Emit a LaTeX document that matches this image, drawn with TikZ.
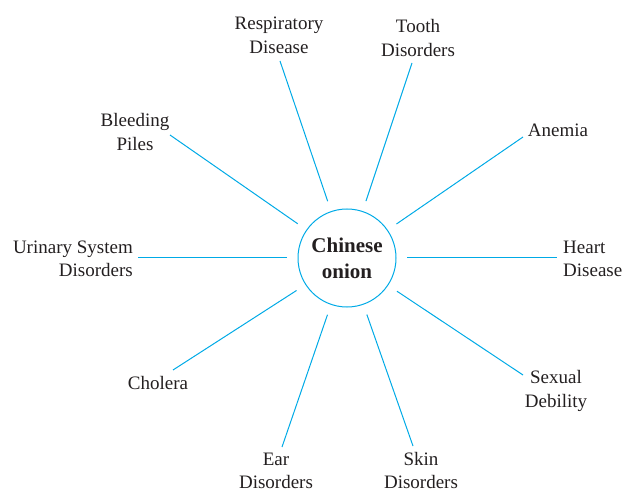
\documentclass[tikz,border=0pt]{standalone}
\usepackage{fontspec}
\setmainfont{Liberation Serif}
\definecolor{spokeblue}{RGB}{0,170,230}
\definecolor{txtgray}{RGB}{35,31,32}
\begin{document}
\begin{tikzpicture}[x=1pt,y=-1pt,
  spoke/.style={draw=spokeblue,line width=1pt},
  lbl/.style={text=txtgray,font=\fontsize{19}{24}\selectfont,inner sep=0pt,anchor=base},
  hub/.style={circle,draw=spokeblue,line width=1pt,minimum size=98pt,inner sep=0pt,outer sep=11pt,
    text=txtgray,font=\bfseries\fontsize{21}{26}\selectfont,align=center}]
\useasboundingbox (0,0) rectangle (625,492);
\node[hub] (c) at (347,258) {Chinese\\onion};
% labels (y = baseline of last line)
\node[lbl,align=center] (resp) at (279,54) {Respiratory\\Disease};
\node[lbl,align=center] (tooth) at (418,57) {Tooth\\Disorders};
\node[lbl,align=center] (anem) at (558,137) {Anemia};
\node[lbl,align=left,anchor=base west] (heart) at (563,277) {Heart\\Disease};
\node[lbl,align=center] (sex) at (556,407) {Sexual\\Debility};
\node[lbl,align=center] (skin) at (421,489) {Skin\\Disorders};
\node[lbl,align=center] (ear) at (276,489) {Ear\\Disorders};
\node[lbl,align=center] (chol) at (158,390) {Cholera};
\node[lbl,align=right,anchor=base east] (urin) at (133,277) {Urinary System\\Disorders};
\node[lbl,align=center] (bleed) at (135,151) {Bleeding\\Piles};
% outer ends
\coordinate (eResp) at (280,61);
\coordinate (eTooth) at (412,63);
\coordinate (eAnem) at (523,137);
\coordinate (eHeart) at (557,258);
\coordinate (eSex) at (523,375);
\coordinate (eSkin) at (413,446);
\coordinate (eEar) at (282,447);
\coordinate (eChol) at (173,370);
\coordinate (eUrin) at (138,258);
\coordinate (eBleed) at (170,135);
\foreach \e in {eResp,eTooth,eAnem,eHeart,eSex,eSkin,eEar,eChol,eUrin,eBleed}
  \draw[spoke] (c) -- (\e);
\end{tikzpicture}
\end{document}
